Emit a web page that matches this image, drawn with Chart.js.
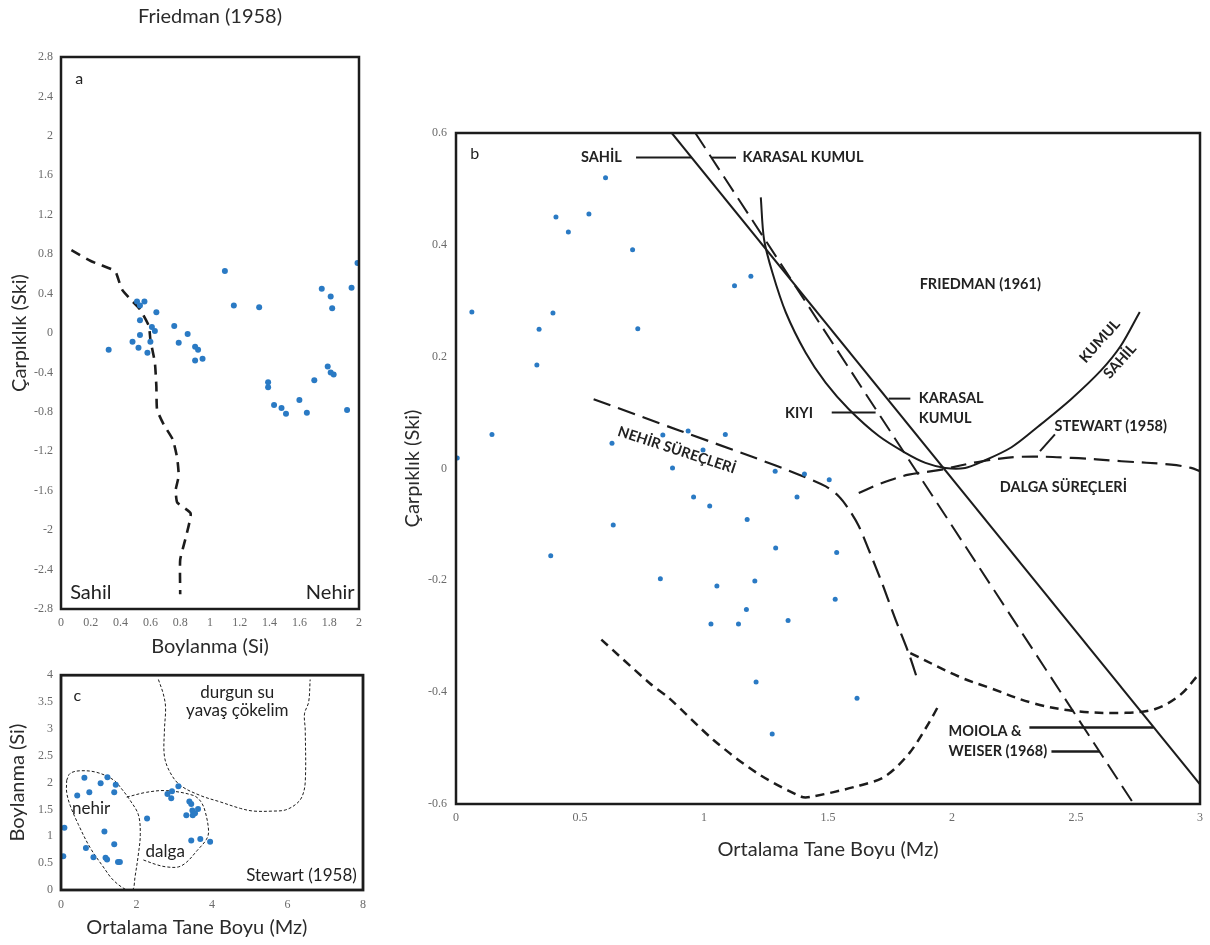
<!DOCTYPE html>
<html lang="tr">
<head>
<meta charset="utf-8">
<title>Friedman / Stewart diyagramları</title>
<script src="https://cdn.jsdelivr.net/npm/chart.js@4.4.1/dist/chart.umd.min.js"></script>
<style>
  html, body { margin: 0; background: #fff; }
  #page { position: relative; width: 1210px; height: 945px; overflow: hidden; }
  canvas { position: absolute; }
  #chartA { left: 0; top: 0; }
  #chartB { left: 380px; top: 100px; }
  #chartC { left: 0; top: 660px; }
</style>
</head>
<body>
<div id="page">
  <canvas id="chartA" width="380" height="670"></canvas>
  <canvas id="chartB" width="830" height="780"></canvas>
  <canvas id="chartC" width="380" height="285"></canvas>
</div>
<script>
// ---- panel a: Friedman (1958), Si vs Ski ----
const aSiTicks = [0, 0.2, 0.4, 0.6, 0.8, 1, 1.2, 1.4, 1.6, 1.8, 2];
const aSkiTicks = [-2.8, -2.4, -2, -1.6, -1.2, -0.8, -0.4, 0, 0.4, 0.8, 1.2, 1.6, 2, 2.4, 2.8];
const aSi = [0.32, 0.48, 0.51, 0.53, 0.56, 0.53, 0.53, 0.52, 0.60, 0.58, 0.61, 0.63, 0.64, 0.76, 0.79, 0.85, 0.90, 0.92, 0.90, 0.95,
             1.10, 1.16, 1.33, 1.39, 1.39, 1.43, 1.48, 1.51, 1.60, 1.65, 1.70, 1.75, 1.81, 1.82, 1.79, 1.81, 1.83, 1.92, 1.95, 1.99];
const aSki = [-0.17, -0.09, 0.32, 0.28, 0.32, 0.13, -0.02, -0.15, -0.09, -0.20, 0.06, 0.02, 0.21, 0.07, -0.10, -0.01, -0.14, -0.17, -0.28, -0.26,
              0.63, 0.28, 0.26, -0.50, -0.55, -0.73, -0.76, -0.82, -0.68, -0.81, -0.48, 0.45, 0.37, 0.25, -0.34, -0.40, -0.42, -0.78, 0.46, 0.71];
// sahil / nehir boundary
const aBoundSi = [0.07, 0.20, 0.35, 0.37, 0.41, 0.48, 0.53, 0.59, 0.60, 0.63, 0.64, 0.645, 0.69, 0.75, 0.78, 0.79, 0.77, 0.78, 0.87, 0.84, 0.80, 0.80];
const aBoundSki = [0.84, 0.73, 0.64, 0.61, 0.44, 0.32, 0.24, 0.07, -0.07, -0.30, -0.54, -0.78, -0.93, -1.08, -1.27, -1.45, -1.59, -1.72, -1.83, -2.06, -2.30, -2.65];

// ---- panel b: Mz vs Ski ----
const bMzTicks = [0, 0.5, 1, 1.5, 2, 2.5, 3];
const bSkiTicks = [-0.6, -0.4, -0.2, 0, 0.2, 0.4, 0.6];
const bMz = [0.064, 0.335, 0.391, 0.326, 0.403, 0.453, 0.536, 0.603, 0.712, 0.733, 1.123, 1.189,
             0.005, 0.145, 0.629, 0.834, 0.936, 1.086, 0.996, 0.873, 1.287, 1.405, 1.505, 0.958, 1.375,
             1.023, 1.174, 0.634, 1.289, 1.535, 0.382, 0.824, 1.205, 1.052, 1.529, 1.171, 1.028, 1.139,
             1.339, 1.210, 1.617, 1.275];
const bSki = [0.280, 0.249, 0.278, 0.185, 0.450, 0.423, 0.455, 0.520, 0.391, 0.250, 0.327, 0.344,
              0.019, 0.061, 0.045, 0.060, 0.067, 0.061, 0.033, 0.001, -0.005, -0.010, -0.020, -0.051, -0.051,
              -0.067, -0.091, -0.101, -0.142, -0.150, -0.156, -0.197, -0.201, -0.210, -0.234, -0.252, -0.278, -0.278,
              -0.272, -0.382, -0.411, -0.475];
// Friedman (1961) straight line (sahil) and Moiola & Weiser dashed line (karasal kumul)
const sahilMz = [0.87, 3.0];
const sahilSki = [0.6, -0.565];
const karasalMz = [0.965, 2.733];
const karasalSki = [0.6, -0.6];
// Friedman (1961) curve: kıyı / karasal kumul, kumul / sahil
const fr61Mz = [1.229, 1.242, 1.276, 1.330, 1.410, 1.491, 1.584, 1.705, 1.812, 1.893, 1.973, 2.053, 2.12, 2.24, 2.35, 2.48, 2.60, 2.68, 2.757];
const fr61Ski = [0.485, 0.410, 0.350, 0.279, 0.207, 0.153, 0.106, 0.058, 0.028, 0.010, 0.001, 0.001, 0.012, 0.038, 0.076, 0.124, 0.175, 0.219, 0.280];
// Stewart (1958) process boundaries
const nehirMzB = [0.555, 0.9, 1.2, 1.383, 1.491, 1.544, 1.584, 1.624, 1.664, 1.718, 1.772, 1.825, 1.859];
const nehirSkiB = [0.124, 0.068, 0.020, -0.011, -0.032, -0.050, -0.073, -0.103, -0.145, -0.205, -0.270, -0.330, -0.375];
const dalgaMzB = [1.624, 1.718, 1.825, 1.946, 2.12, 2.281, 2.482, 2.683, 2.884, 2.964, 3.0];
const dalgaSkiB = [-0.044, -0.026, -0.011, -0.003, 0.013, 0.021, 0.019, 0.013, 0.007, 0.001, -0.005];
const lowRightMz = [1.832, 2.027, 2.15, 2.33, 2.5, 2.7, 2.82, 2.92, 3.0];
const lowRightSki = [-0.330, -0.372, -0.392, -0.420, -0.434, -0.437, -0.430, -0.405, -0.365];
const lowLeftMz = [0.586, 0.781, 0.86, 1.037, 1.215, 1.393, 1.433, 1.611, 1.729, 1.828, 1.907, 1.947];
const lowLeftSki = [-0.306, -0.384, -0.411, -0.485, -0.545, -0.587, -0.587, -0.569, -0.551, -0.509, -0.455, -0.423];
// label pointers
const ptrSahilMz = [0.726, 0.95], ptrSahilSki = [0.556, 0.556];
const ptrKarasalMz = [1.03, 1.129], ptrKarasalSki = [0.556, 0.556];
const ptrKiyiMz = [1.515, 1.692], ptrKiyiSki = [0.1, 0.1];
const ptrKumulMz = [1.745, 1.832], ptrKumulSki = [0.125, 0.125];
const ptrStewartMz = [2.355, 2.415], ptrStewartSki = [0.031, 0.061];
const ptrMoiola1Mz = [2.312, 2.813], ptrMoiola1Ski = [-0.463, -0.463];
const ptrMoiola2Mz = [2.401, 2.594], ptrMoiola2Ski = [-0.506, -0.506];

// ---- panel c: Stewart (1958), Mz vs Si ----
const cMzTicks = [0, 2, 4, 6, 8];
const cSiTicks = [0, 0.5, 1, 1.5, 2, 2.5, 3, 3.5, 4];
const cMz = [0.06, 0.09, 0.43, 0.62, 0.75, 0.66, 0.86, 1.05, 1.23, 1.45, 1.41, 1.15, 1.41, 1.18, 1.22, 1.51, 1.56,
             2.28, 2.82, 2.94, 2.92, 3.11, 3.32, 3.40, 3.45, 3.48, 3.49, 3.55, 3.63, 3.45, 3.69, 3.95];
const cSi = [0.63, 1.16, 1.76, 2.09, 1.82, 0.78, 0.61, 1.99, 2.10, 1.96, 1.82, 1.09, 0.85, 0.60, 0.57, 0.52, 0.52,
             1.33, 1.79, 1.84, 1.71, 1.93, 1.39, 1.65, 1.60, 1.48, 1.39, 1.43, 1.51, 0.92, 0.95, 0.90];
const nehirMz = [0.15, 0.24, 0.50, 0.95, 1.39, 1.61, 1.83, 2.05, 2.10, 2.05, 1.96, 1.90, 1.74, 1.39, 1.12, 0.77, 0.46, 0.24, 0.15, 0.15];
const nehirSi = [2.04, 2.17, 2.22, 2.19, 2.05, 1.88, 1.67, 1.40, 1.03, 0.67, 0.24, 0.0, 0.0, 0.18, 0.43, 0.79, 1.22, 1.58, 1.82, 2.04];
const dalgaMz = [1.74, 2.27, 2.80, 3.51, 3.70, 3.82, 3.91, 3.85, 3.60, 3.33, 3.11, 2.80, 2.54, 2.14];
const dalgaSi = [1.73, 1.82, 1.85, 1.76, 1.65, 1.46, 1.09, 0.94, 0.73, 0.52, 0.43, 0.43, 0.47, 0.57];
const durgunMz = [2.58, 2.71, 2.77, 2.74, 2.74, 2.89, 3.16, 3.69, 4.22, 4.75, 5.10, 5.63, 5.94, 6.21, 6.38, 6.47, 6.47, 6.45, 6.56, 6.60];
const durgunSi = [3.92, 3.65, 3.40, 2.98, 2.49, 2.19, 1.95, 1.76, 1.64, 1.52, 1.47, 1.47, 1.49, 1.59, 1.73, 2.01, 2.98, 3.28, 3.50, 3.92];

const BLUE = '#2a7ac4';
const INK = '#1c1c1c';
Chart.defaults.font.family = 'Lato';

const xy = (xs, ys) => xs.map((x, i) => ({ x, y: ys[i] }));
const points = (xs, ys, r) => ({ data: xy(xs, ys), backgroundColor: BLUE, borderWidth: 0, pointRadius: r });
const line = (xs, ys, width, dash, tension) => ({
  data: xy(xs, ys), showLine: true, borderColor: INK, borderWidth: width,
  borderDash: dash || [], tension: tension || 0, pointRadius: 0, fill: false
});

// text in data coordinates + the black frame round the plot area
function labelPlugin(items, frame) {
  return {
    id: 'textLabels',
    afterDatasetsDraw(chart) {
      const { ctx, chartArea: a, scales: { x, y } } = chart;
      ctx.save();
      ctx.lineWidth = frame;
      ctx.strokeStyle = INK;
      ctx.strokeRect(a.left, a.top, a.right - a.left, a.bottom - a.top);
      items.forEach(it => {
        ctx.save();
        ctx.translate(x.getPixelForValue(it.x), y.getPixelForValue(it.y));
        if (it.rotate) ctx.rotate(it.rotate * Math.PI / 180);
        ctx.font = it.font;
        ctx.fillStyle = it.color || '#222';
        ctx.textAlign = it.align || 'center';
        ctx.textBaseline = 'middle';
        ctx.fillText(it.text, 0, 0);
        ctx.restore();
      });
      ctx.restore();
    }
  };
}

function axis(min, max, ticks, size, tickPad, title, titlePad) {
  return {
    min, max,
    grid: { display: false, drawTicks: false },
    border: { display: false },
    afterBuildTicks: s => { s.ticks = ticks.map(v => ({ value: v })); },
    afterFit: s => { if (s.isHorizontal()) s.height = size; else s.width = size; },
    ticks: {
      padding: tickPad, color: '#6a6a6a', autoSkip: false, maxRotation: 0,
      font: { family: 'Liberation Serif', size: 12 },
      callback: v => String(v)
    },
    title: title
      ? { display: true, text: title, color: '#2b2b2b', font: { family: 'Lato', size: 20 }, padding: titlePad }
      : { display: false }
  };
}

function makeChart(id, datasets, scales, padding, title, labels, frame) {
  return new Chart(document.getElementById(id), {
    type: 'scatter',
    data: { datasets },
    options: {
      responsive: false,
      animation: false,
      events: [],
      layout: { padding },
      scales,
      plugins: {
        legend: { display: false },
        tooltip: { enabled: false },
        title: title || { display: false }
      }
    },
    plugins: [labelPlugin(labels, frame)]
  });
}

const big = '20px Lato';
const tag = '16px Lato';
const bold = 'bold 14.5px Lato';
const small = '17px Lato';

// panel a
makeChart('chartA',
  [points(aSi, aSki, 3), line(aBoundSi, aBoundSki, 2.6, [10, 7], 0.15)],
  {
    x: axis(0, 2, aSiTicks, 61, 6.5, 'Boylanma (Si)', { top: 0, bottom: 11 }),
    y: axis(-2.8, 2.8, aSkiTicks, 61, 8, 'Çarpıklık (Ski)', { top: 8, bottom: 0 })
  },
  { left: 0, right: 21, top: 0, bottom: 0 },
  { display: true, text: 'Friedman (1958)', fullSize: false, color: '#2b2b2b',
    font: { family: 'Lato', size: 20, weight: 'normal' }, padding: { top: 5, bottom: 28 } },
  [
    { text: 'a', x: 0.123, y: 2.576, font: tag },
    { text: 'Sahil', x: 0.2, y: -2.63, font: big },
    { text: 'Nehir', x: 1.807, y: -2.63, font: big }
  ],
  2.5);

// panel b
makeChart('chartB',
  [
    points(bMz, bSki, 2.5),
    line(sahilMz, sahilSki, 2),
    line(karasalMz, karasalSki, 2, [18, 8]),
    line(fr61Mz, fr61Ski, 2, [], 0.3),
    line(nehirMzB, nehirSkiB, 2.2, [18, 8], 0.3),
    line(dalgaMzB, dalgaSkiB, 2.2, [16, 8], 0.35),
    line(lowRightMz, lowRightSki, 2.5, [9, 6], 0.35),
    line(lowLeftMz, lowLeftSki, 2.5, [9, 6], 0.3),
    line(ptrSahilMz, ptrSahilSki, 2),
    line(ptrKarasalMz, ptrKarasalSki, 2),
    line(ptrKiyiMz, ptrKiyiSki, 2),
    line(ptrKumulMz, ptrKumulSki, 2),
    line(ptrStewartMz, ptrStewartSki, 2),
    line(ptrMoiola1Mz, ptrMoiola1Ski, 2.5),
    line(ptrMoiola2Mz, ptrMoiola2Ski, 2.5)
  ],
  {
    x: axis(0, 3, bMzTicks, 76, 7, 'Ortalama Tane Boyu (Mz)', { top: 0, bottom: 18 }),
    y: axis(-0.6, 0.6, bSkiTicks, 76, 9, 'Çarpıklık (Ski)', { top: 21, bottom: 0 })
  },
  { left: 0, right: 8, top: 33, bottom: 0 },
  null,
  [
    { text: 'b', x: 0.076, y: 0.562, font: tag },
    { text: 'SAHİL', x: 0.586, y: 0.556, font: bold },
    { text: 'KARASAL KUMUL', x: 1.155, y: 0.556, font: bold, align: 'left' },
    { text: 'FRIEDMAN (1961)', x: 2.114, y: 0.329, font: bold },
    { text: 'KUMUL', x: 2.596, y: 0.228, font: bold, rotate: -48 },
    { text: 'SAHİL', x: 2.677, y: 0.192, font: bold, rotate: -48 },
    { text: 'KIYI', x: 1.383, y: 0.098, font: bold },
    { text: 'KARASAL', x: 1.866, y: 0.125, font: bold, align: 'left' },
    { text: 'KUMUL', x: 1.866, y: 0.089, font: bold, align: 'left' },
    { text: 'STEWART (1958)', x: 2.64, y: 0.075, font: bold },
    { text: 'DALGA SÜREÇLERİ', x: 2.449, y: -0.033, font: bold },
    { text: 'NEHİR SÜREÇLERİ', x: 0.89, y: 0.033, font: bold, rotate: 18 },
    { text: 'MOIOLA &', x: 1.986, y: -0.470, font: bold, align: 'left' },
    { text: 'WEISER (1968)', x: 1.986, y: -0.505, font: bold, align: 'left' }
  ],
  2.5);

// panel c
makeChart('chartC',
  [
    points(cMz, cSi, 3),
    line(nehirMz, nehirSi, 1, [3, 2], 0.35),
    line(dalgaMz, dalgaSi, 1, [3, 2], 0.35),
    line(durgunMz, durgunSi, 1, [3, 2], 0.35)
  ],
  {
    x: axis(0, 8, cMzTicks, 55, 8, null),
    y: axis(0, 4, cSiTicks, 61, 8, 'Boylanma (Si)', { top: 6, bottom: 0 })
  },
  { left: 0, right: 17, top: 11, bottom: 0 },
  null,
  [
    { text: 'c', x: 0.43, y: 3.61, font: tag },
    { text: 'durgun su', x: 4.67, y: 3.68, font: small },
    { text: 'yavaş çökelim', x: 4.67, y: 3.34, font: small },
    { text: 'nehir', x: 0.80, y: 1.52, font: small },
    { text: 'dalga', x: 2.76, y: 0.72, font: small },
    { text: 'Stewart (1958)', x: 6.37, y: 0.27, font: small },
    { text: 'Ortalama Tane Boyu (Mz)', x: 3.6, y: -0.70, font: big, color: '#2b2b2b' }
  ],
  2.8);
</script>
</body>
</html>
